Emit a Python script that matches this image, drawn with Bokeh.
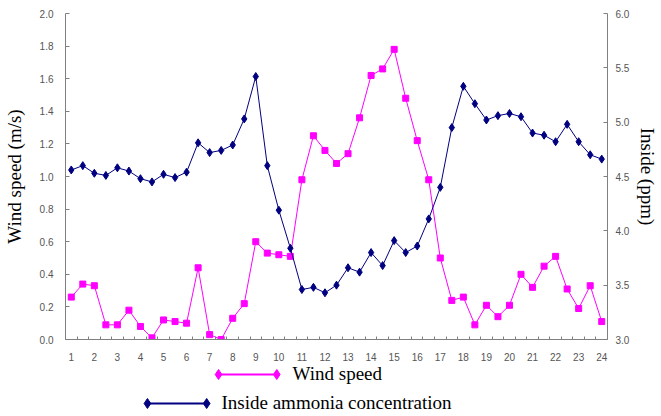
from bokeh.plotting import figure
from bokeh.models import Range1d, LinearAxis, FixedTicker, PrintfTickFormatter
from bokeh.layouts import column
from bokeh.core.properties import value
from bokeh.embed import file_html
from bokeh.resources import INLINE

# ---- data ----
hours = [1, 1.5, 2, 2.5, 3, 3.5, 4, 4.5, 5, 5.5, 6, 6.5, 7, 7.5, 8, 8.5, 9, 9.5, 10, 10.5,
         11, 11.5, 12, 12.5, 13, 13.5, 14, 14.5, 15, 15.5, 16, 16.5, 17, 17.5, 18, 18.5,
         19, 19.5, 20, 20.5, 21, 21.5, 22, 22.5, 23, 23.5, 24]
wind_speed = [0.26, 0.34, 0.33, 0.09, 0.09, 0.18, 0.08, 0.01, 0.12, 0.11, 0.10, 0.44,
              0.03, 0.00, 0.13, 0.22, 0.60, 0.53, 0.52, 0.51, 0.98, 1.25, 1.16, 1.08,
              1.14, 1.36, 1.62, 1.66, 1.78, 1.48, 1.22, 0.98, 0.50, 0.24, 0.26, 0.09,
              0.21, 0.14, 0.21, 0.40, 0.32, 0.45, 0.51, 0.31, 0.19, 0.33, 0.11]
inside_ppm = [4.56, 4.60, 4.53, 4.51, 4.58, 4.55, 4.48, 4.45, 4.52, 4.49, 4.54, 4.81,
              4.72, 4.74, 4.79, 5.03, 5.42, 4.60, 4.19, 3.84, 3.46, 3.48, 3.43, 3.50,
              3.66, 3.62, 3.80, 3.68, 3.91, 3.80, 3.86, 4.11, 4.40, 4.95, 5.33, 5.17,
              5.02, 5.06, 5.08, 5.05, 4.90, 4.88, 4.82, 4.98, 4.82, 4.70, 4.66]
x_tick_labels = list(range(1, 25))
x_minor_ticks = [0.75 + 0.5 * i for i in range(48)]
left_ticks = [0.0, 0.2, 0.4, 0.6, 0.8, 1.0, 1.2, 1.4, 1.6, 1.8, 2.0]
right_ticks = [3.0, 3.5, 4.0, 4.5, 5.0, 5.5, 6.0]
legend_labels = ["Wind speed", "Inside ammonia concentration"]

PINK = "#FF00FF"
NAVY = "#000080"
AXIS = "#808080"
TICKTXT = "#555555"

BL, BR = 62, 50

main = figure(width=661, height=364, output_backend="svg", toolbar_location=None,
              x_range=Range1d(0.75, 24.25), y_range=Range1d(0, 2.0),
              min_border_left=BL, min_border_right=BR, min_border_top=13,
              min_border_bottom=25)
main.extra_y_ranges = {"ppm": Range1d(3.0, 6.0)}
main.xgrid.visible = False
main.ygrid.visible = False
main.outline_line_color = None
main.background_fill_color = "white"

main.line(hours, wind_speed, line_color=PINK, line_width=1)
main.scatter(hours, wind_speed, marker="square", size=6, fill_color=PINK, line_color=PINK)
main.line(hours, inside_ppm, line_color=NAVY, line_width=1, y_range_name="ppm")
main.scatter(hours, inside_ppm, marker="diamond", size=8, fill_color=NAVY, line_color=NAVY,
             y_range_name="ppm")

# x axis
xa = main.xaxis[0]
xa.ticker = FixedTicker(ticks=x_tick_labels, minor_ticks=x_minor_ticks)
xa.major_tick_in = 0
xa.major_tick_out = 0
xa.minor_tick_in = 3
xa.minor_tick_out = 0
xa.minor_tick_line_color = AXIS
xa.axis_line_color = AXIS
xa.major_label_standoff = 13
xa.major_label_text_font = "Liberation Sans"
xa.major_label_text_font_size = "10px"
xa.major_label_text_color = TICKTXT

# left axis
ya = main.yaxis[0]
ya.ticker = FixedTicker(ticks=left_ticks)
ya.formatter = PrintfTickFormatter(format="%.1f")
ya.major_tick_in = 4
ya.major_tick_out = 0
ya.minor_tick_line_color = None
ya.major_tick_line_color = AXIS
ya.axis_line_color = AXIS
ya.major_label_standoff = 12
ya.major_label_text_font = "Liberation Sans"
ya.major_label_text_font_size = "10px"
ya.major_label_text_color = TICKTXT
ya.axis_label = "Wind speed (m/s)"
ya.axis_label_text_font = "Liberation Serif"
ya.axis_label_text_font_size = "19px"
ya.axis_label_text_font_style = "normal"
ya.axis_label_text_color = "black"
ya.axis_label_standoff = 12

# right axis
ra = LinearAxis(y_range_name="ppm", ticker=FixedTicker(ticks=right_ticks),
                formatter=PrintfTickFormatter(format="%.1f"))
ra.major_tick_in = 4
ra.major_tick_out = 0
ra.minor_tick_line_color = None
ra.major_tick_line_color = AXIS
ra.axis_line_color = AXIS
ra.major_label_standoff = 8
ra.major_label_text_font = "Liberation Sans"
ra.major_label_text_font_size = "10px"
ra.major_label_text_color = TICKTXT
ra.axis_label = "Inside (ppm)"
ra.axis_label_text_font = "Liberation Serif"
ra.axis_label_text_font_size = "19px"
ra.axis_label_text_font_style = "normal"
ra.axis_label_text_color = "black"
ra.axis_label_standoff = 5
main.add_layout(ra, "right")

# ---- legend strip (pixel coordinates, frame aligned with main plot) ----
leg = figure(width=661, height=52, output_backend="svg", toolbar_location=None,
             x_range=Range1d(BL, 661 - BR), y_range=Range1d(52, 0),
             x_axis_type=None, y_axis_type=None,
             min_border_left=BL, min_border_right=BR, min_border_top=0, min_border_bottom=0)
leg.xgrid.visible = False
leg.ygrid.visible = False
leg.outline_line_color = None

entries = [
    (legend_labels[0], PINK, 217, 276, 10, 292, 9),
    (legend_labels[1], NAVY, 145, 205, 39, 220, 38),
]
for label, col, x0, x1, yl, xt, yt in entries:
    leg.line([x0, x1], [yl, yl], line_color=col, line_width=2)
    leg.scatter([x0, x1], [yl, yl], marker="diamond", size=10, fill_color=col, line_color=col)
    leg.text([xt], [yt], text=[label], text_font=value("Liberation Serif"),
             text_font_size="19px", text_baseline="alphabetic", text_align="left",
             text_color="black")

layout = column(main, leg, spacing=0)
open("out.html", "w").write(file_html(layout, INLINE))
